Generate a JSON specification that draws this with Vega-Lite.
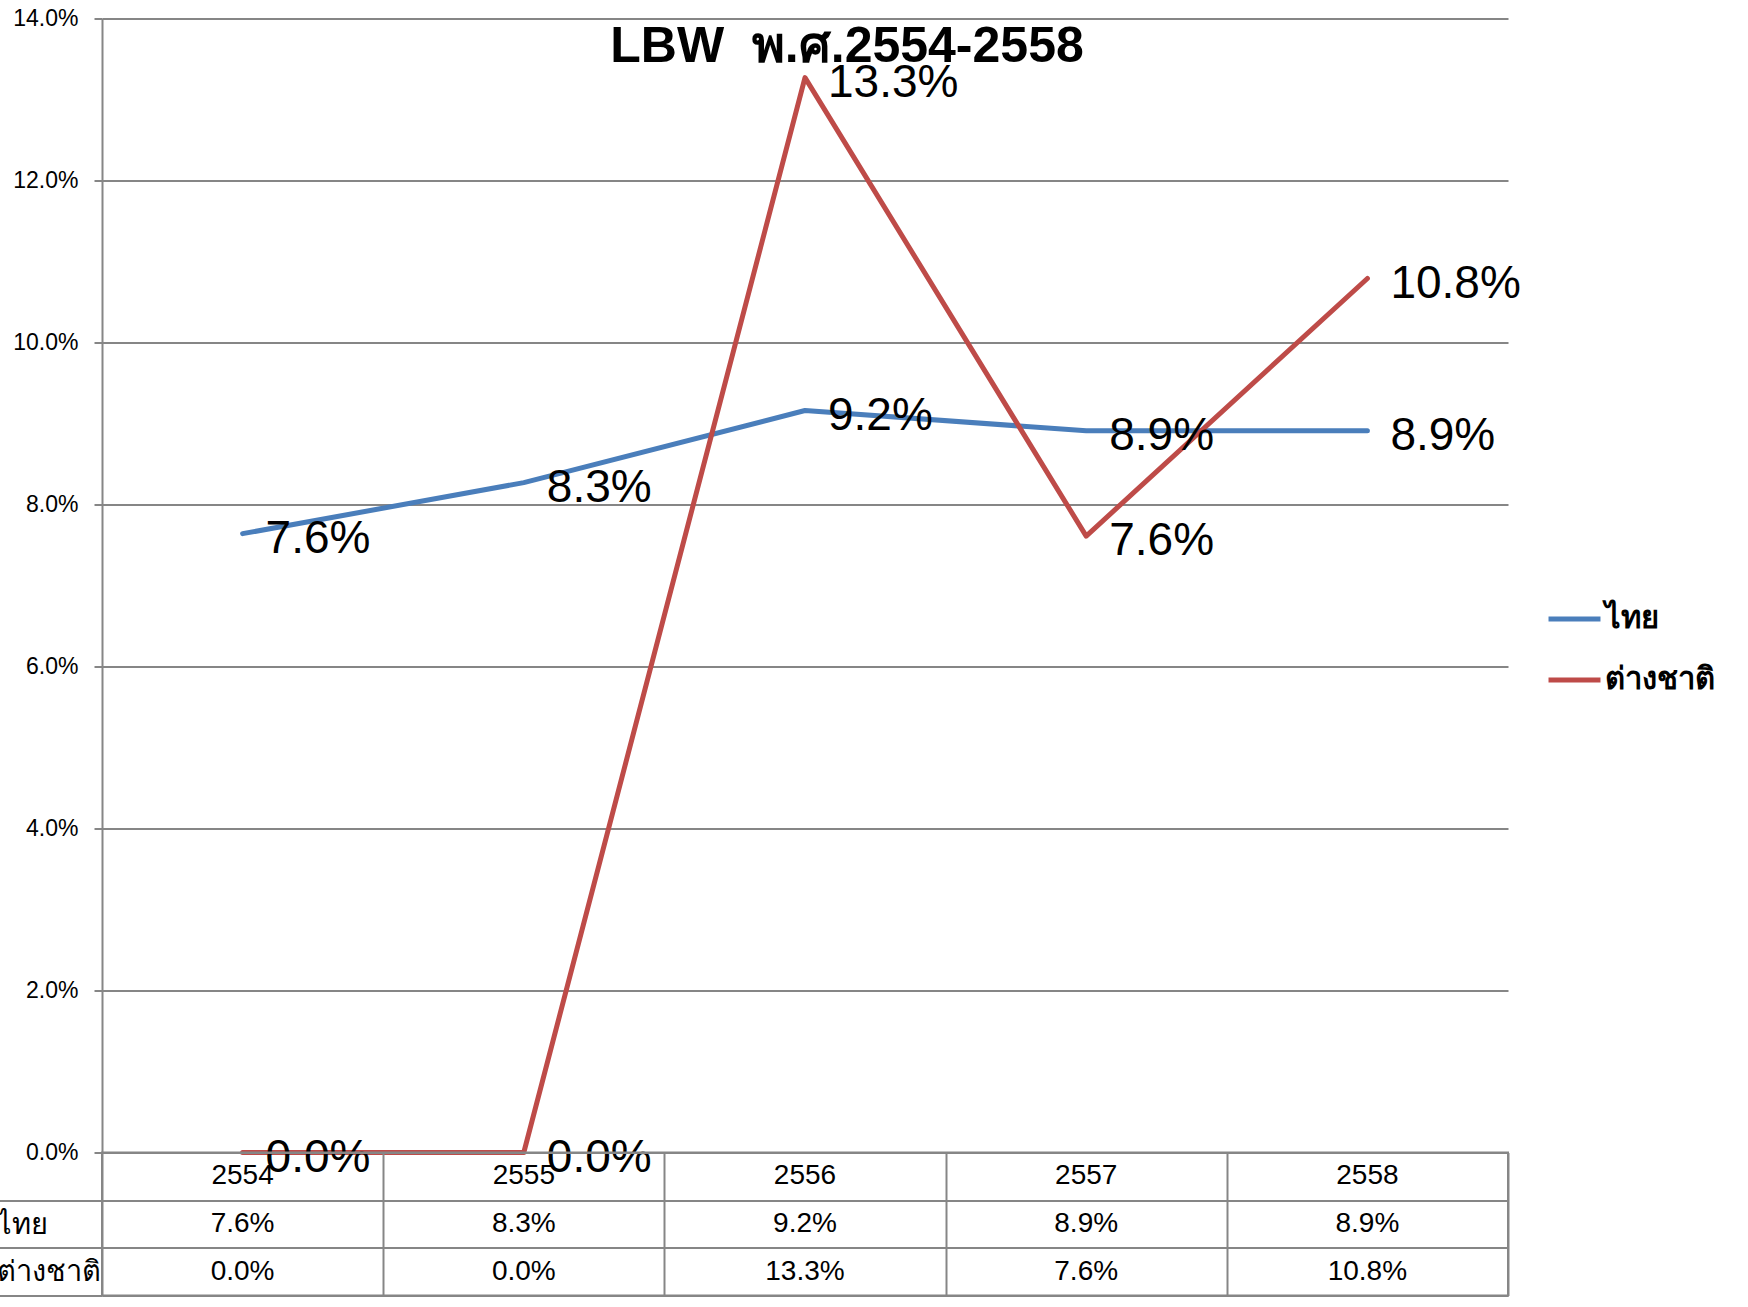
{
  "$schema": "https://vega.github.io/schema/vega-lite/v6.json",
  "padding": {"left": -10, "top": 7.5, "right": 0, "bottom": 0},
  "autosize": {"type": "pad"},
  "background": "white",
  "bounds": "flush",
  "spacing": 0,
  "config": {"font": "Liberation Sans", "view": {"stroke": null}},
  "datasets": {
    "lbw": [
      {"year": "2554", "series": "ไทย", "value": 0.0764},
      {"year": "2555", "series": "ไทย", "value": 0.0827},
      {"year": "2556", "series": "ไทย", "value": 0.0916},
      {"year": "2557", "series": "ไทย", "value": 0.0891},
      {"year": "2558", "series": "ไทย", "value": 0.0891},
      {"year": "2554", "series": "ต่างชาติ", "value": 0.0},
      {"year": "2555", "series": "ต่างชาติ", "value": 0.0},
      {"year": "2556", "series": "ต่างชาติ", "value": 0.1327},
      {"year": "2557", "series": "ต่างชาติ", "value": 0.0761},
      {"year": "2558", "series": "ต่างชาติ", "value": 0.1079}
    ]
  },
  "vconcat": [
    {
      "width": 1406,
      "height": 1134,
      "title": {"text": "LBW\u00a0 พ.ศ.2554-2558", "fontSize": 50, "fontWeight": "bold", "anchor": "middle", "frame": "group", "baseline": "alphabetic", "offset": -104, "dx": 42, "color": "black"},
      "data": {"name": "lbw"},
      "layer": [
        {
          "mark": {"type": "line", "strokeWidth": 5, "strokeCap": "round", "strokeJoin": "round"},
          "encoding": {
            "x": {"field": "year", "type": "ordinal", "scale": {"type": "point", "padding": 0.5}, "axis": null},
            "y": {"field": "value", "type": "quantitative", "scale": {"domain": [0, 0.14], "nice": false},
              "axis": {"values": [0, 0.02, 0.04, 0.06, 0.08, 0.1, 0.12, 0.14], "format": ".1%", "title": null, "labelFontSize": 23, "labelColor": "black", "labelPadding": 16, "tickSize": 8, "tickColor": "#868686", "tickWidth": 2, "domainColor": "#868686", "domainWidth": 2, "gridColor": "#868686", "gridWidth": 2, "grid": true}},
            "color": {"field": "series", "type": "nominal", "scale": {"domain": ["ไทย", "ต่างชาติ"], "range": ["#4A7EBB", "#BE4B48"]},
              "legend": {"orient": "none", "legendX": 1444, "legendY": 572, "title": null, "symbolType": "stroke", "symbolStrokeWidth": 5, "symbolSize": 2700, "labelFontSize": 31, "labelFontWeight": "bold", "labelOffset": 2, "rowPadding": 17, "labelColor": "black"}}
          }
        },
        {
          "mark": {"type": "text", "align": "left", "baseline": "middle", "dx": 23, "dy": 5, "fontSize": 46, "color": "black"},
          "encoding": {
            "x": {"field": "year", "type": "ordinal", "scale": {"type": "point", "padding": 0.5}, "axis": null},
            "y": {"field": "value", "type": "quantitative"},
            "detail": {"field": "series"},
            "text": {"field": "value", "format": ".1%"}
          }
        }
      ]
    },
    {
      "width": 1406,
      "height": 143,
      "view": {"stroke": "#868686", "strokeWidth": 2},
      "data": {"name": "lbw"},
      "layer": [
        {
          "transform": [{"filter": "datum.series == 'ไทย'"}],
          "mark": {"type": "text", "fontSize": 28, "color": "black", "baseline": "middle"},
          "encoding": {
            "x": {"field": "year", "type": "ordinal", "scale": {"type": "band", "paddingInner": 0, "paddingOuter": 0},
              "axis": {"title": null, "tickBand": "extent", "grid": true, "gridColor": "#868686", "gridWidth": 2, "domain": false, "ticks": false, "labels": false}},
            "y": {"datum": "h", "type": "nominal"},
            "text": {"field": "year"}
          }
        },
        {
          "mark": {"type": "text", "fontSize": 28, "color": "black", "baseline": "middle"},
          "encoding": {
            "x": {"field": "year", "type": "ordinal", "scale": {"type": "band", "paddingInner": 0, "paddingOuter": 0},
              "axis": {"title": null, "tickBand": "extent", "grid": true, "gridColor": "#868686", "gridWidth": 2, "domain": false, "ticks": false, "labels": false}},
            "y": {"field": "series", "type": "nominal", "scale": {"domain": ["h", "ไทย", "ต่างชาติ"], "paddingInner": 0, "paddingOuter": 0},
              "axis": {"title": null, "tickBand": "extent", "grid": true, "gridColor": "#868686", "gridWidth": 2, "domain": false, "tickSize": 110, "tickColor": "#868686", "tickWidth": 2,
                "tickOpacity": {"condition": {"test": "datum.extra", "value": 0}, "value": 1},
                "labelAlign": "left", "labelBaseline": "middle", "labelPadding": -4, "labelFontSize": 29, "labelColor": "black",
                "labelExpr": "datum.value === 'h' ? '' : datum.label"}},
            "text": {"field": "value", "format": ".1%"}
          }
        }
      ]
    }
  ]
}
